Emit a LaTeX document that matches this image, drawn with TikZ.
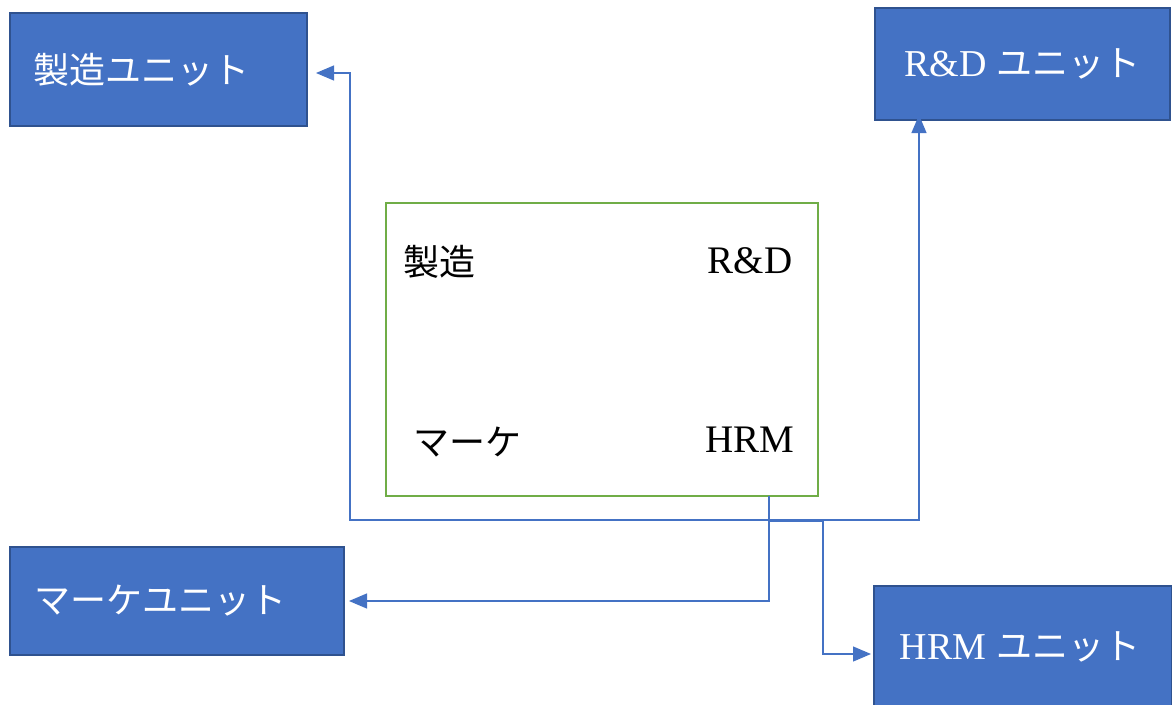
\documentclass[tikz,border=0pt]{standalone}
\usepackage{fontspec}
\setmainfont{Liberation Serif}
\newfontfamily\cjk{Noto Sans CJK JP}
\usetikzlibrary{arrows.meta}
\definecolor{unitblue}{HTML}{4472C4}
\definecolor{unitedge}{HTML}{2F528F}
\definecolor{hubgreen}{HTML}{70AD47}

\begin{document}
\begin{tikzpicture}[x=1pt, y=-1pt,
	unit/.style = {draw=unitedge, line width=2pt, fill=unitblue, text=white, inner sep=0pt, font=\fontsize{36}{40}\selectfont},
	label/.style = {inner sep=0pt, font=\fontsize{36}{42}\selectfont},
	latin/.style = {inner sep=0pt, font=\fontsize{39}{44}\selectfont},
	link/.style = {draw=unitblue, line width=1.2pt, -{Triangle[length=18pt,width=15pt]}}]
	\useasboundingbox (0,0) rectangle (1172,704);
	% the four units
	\node[unit, minimum width=297pt, minimum height=113pt] (seizo) at (158.5,69.5) {\raisebox{-4pt}{\cjk 製造ユニット}\hspace*{35pt}};
	\node[unit, minimum width=295pt, minimum height=112pt] (rd) at (1022.5,64) {\raisebox{-2pt}{\fontsize{38}{42}\selectfont R\&D {\cjk\fontsize{36}{40}\selectfont ユニット}}};
	\node[unit, minimum width=334pt, minimum height=108pt] (marke) at (177,601) {\raisebox{-3pt}{\cjk マーケユニット}\hspace*{34pt}};
	\node[unit, minimum width=298pt, minimum height=122pt] (hrm) at (1023,647) {\hspace*{-6pt}\raisebox{-1pt}{\fontsize{38}{42}\selectfont HRM {\cjk\fontsize{36}{40}\selectfont ユニット}}};
	% the central box
	\node[draw=hubgreen, line width=2.2pt, minimum width=432pt, minimum height=293pt] (hub) at (602,349.5) {};
	\node[label] (l1) at (439,262) {\cjk 製造};
	\node[latin] (l2) at (750,261) {R\&D};
	\node[label] (l3) at (467,442) {\cjk マーケ};
	\node[latin] (l4) at (750,440) {HRM};
	\coordinate (out) at (769,496);
	% connectors
	\draw[link] (out) |- (350,520) |- ([xshift=8pt,yshift=-3.5pt]seizo.east);
	\draw[link] (out) |- (919,520) -- ([yshift=6pt]rd.south -| 919,0);
	\draw[link] (out) |- ([xshift=4pt]marke.east);
	\draw[link] (out) |- (823,521) |- ([xshift=-2pt,yshift=-7pt]hrm.west);
\end{tikzpicture}
\end{document}
